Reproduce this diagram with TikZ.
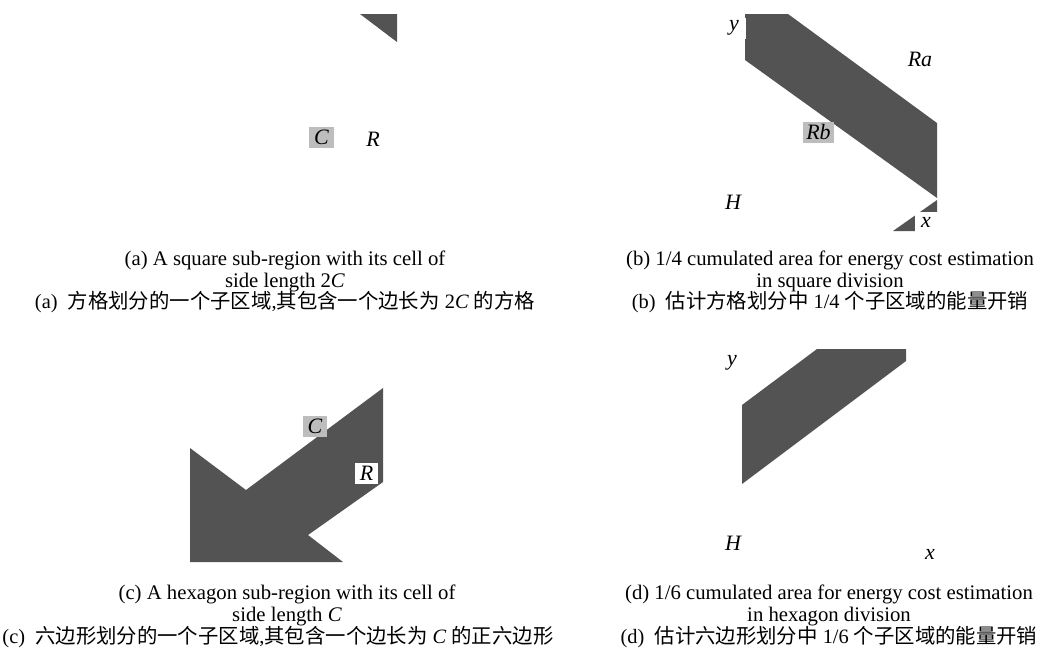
\documentclass[tikz,border=0pt]{standalone}
\usepackage{fontspec}
\setmainfont{Liberation Serif}
\newfontfamily\cjk{Noto Sans CJK SC}
\definecolor{band}{HTML}{535353}
\definecolor{tag}{HTML}{BDBDBD}

\begin{document}
\begin{tikzpicture}[x=0.02cm,y=-0.02cm,every node/.style={inner sep=0pt},
	lbl/.style={font=\fontsize{12.5}{14}\selectfont\itshape,minimum height=0.42cm},
	graytag/.style={lbl,fill=tag,minimum width=0.5cm},
	whitetag/.style={lbl,fill=white,minimum width=0.46cm},
	caption/.style={font=\fontsize{11.8}{12.5}\selectfont,align=center},
	cn/.style={font=\fontsize{11.6}{12.5}\selectfont}]
	\useasboundingbox (0,0) rectangle (1044,657);
	%% four panels
	\fill[white] (180,14) rectangle (397,231);
	\fill[white] (745,14) rectangle (937,231);
	\fill[white] (190,350) rectangle (383,562);
	\fill[white] (742,349) rectangle (938,560);
	%% (a) square sub-region
	\fill[band] (360,14) -- (397,14) -- (397,42) -- cycle;
	\node[graytag] (ca) at (321.5,137.5){C};
	\node[lbl] (ra) at (373,139){R};
	%% (b) quarter of the square
	\fill[band] (745,14) -- (788,14) -- (937,123) -- (937,198) -- (745,60) -- cycle;
	\fill[band] (893,231) -- (937,231) -- (937,200) -- cycle;
	\node[whitetag] (yb) at (734,28){y};
	\node[lbl] (rab) at (920,59){Ra};
	\node[graytag,minimum width=0.62cm] (rbb) at (818.5,132){Rb};
	\node[lbl] (hb) at (733,202){H};
	\node[whitetag] (xb) at (926,222){x};
	%% (c) hexagon sub-region
	\fill[band] (190,448) -- (246,490) -- (383,388) -- (383,482) -- (308,535)
		-- (343,562) -- (190,562) -- cycle;
	\node[graytag,minimum width=0.48cm] (cc) at (315,426.5){C};
	\node[whitetag] (rc) at (366.5,473){R};
	%% (d) sixth of the hexagon
	\fill[band] (742,405) -- (817,349) -- (906,349) -- (906,361) -- (742,484) -- cycle;
	\node[lbl] (yd) at (732,363){y};
	\node[lbl] (hd) at (733,543){H};
	\node[whitetag] (xd) at (930,554){x};
	%% captions
	\node[caption] (capa) at (285,271){(a) A square sub-region with its cell of\\side length 2\textit{C}};
	\node[cn] (cna) at (285,302){(a)\ \ {\cjk 方格划分的一个子区域},{\cjk 其包含一个边长为} 2\textit{C} {\cjk 的方格}};
	\node[caption] (capb) at (830,271){(b) 1/4 cumulated area for energy cost estimation\\in square division};
	\node[cn] (cnb) at (830,302){(b)\ \ {\cjk 估计方格划分中} 1/4 {\cjk 个子区域的能量开销}};
	\node[caption] (capc) at (287,605){(c) A hexagon sub-region with its cell of\\side length \textit{C}};
	\node[cn] (cnc) at (278,637){(c)\ \ {\cjk 六边形划分的一个子区域},{\cjk 其包含一个边长为} \textit{C} {\cjk 的正六边形}};
	\node[caption] (capd) at (829,605){(d) 1/6 cumulated area for energy cost estimation\\in hexagon division};
	\node[cn] (cnd) at (829,637){(d)\ \ {\cjk 估计六边形划分中} 1/6 {\cjk 个子区域的能量开销}};
\end{tikzpicture}
\end{document}
